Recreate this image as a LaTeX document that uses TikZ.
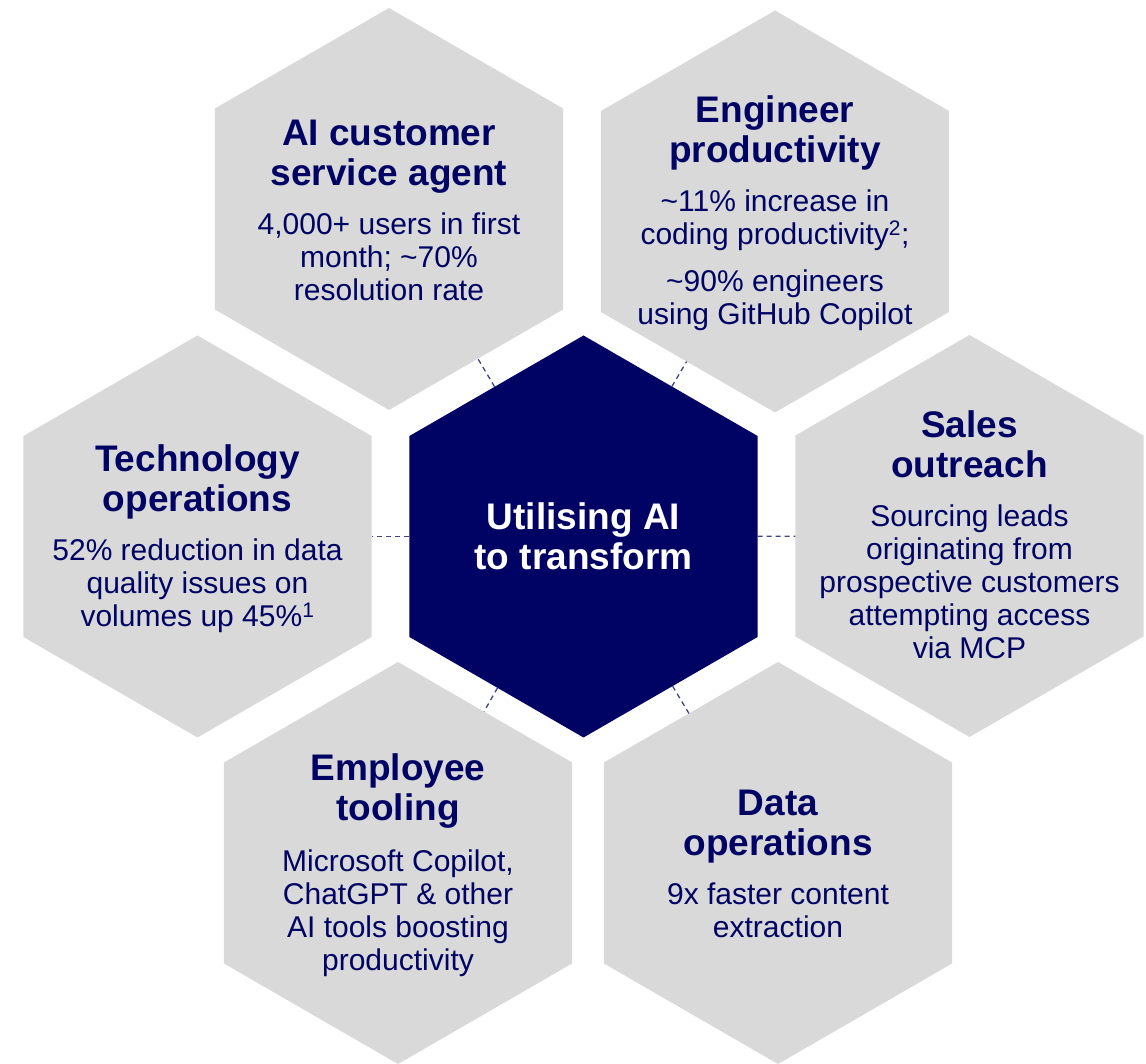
\documentclass[tikz,border=0pt]{standalone}
\usepackage{fontspec}
\setmainfont{Liberation Sans}
\usetikzlibrary{shapes.geometric}
\definecolor{navy}{RGB}{0,3,100}
\definecolor{hexgray}{RGB}{217,217,217}
\begin{document}
\begin{tikzpicture}[x=1pt,y=1pt,
    hexa/.style={regular polygon, regular polygon sides=6, shape border rotate=90,
      minimum size=402pt, inner sep=0pt, outer sep=0pt, fill=hexgray},
    hextitle/.style={anchor=north, align=center, text=navy, font=\fontsize{37}{40}\selectfont\bfseries},
    hexbody/.style={anchor=north, align=center, text=navy, font=\fontsize{30}{32.8}\selectfont},
    link/.style={navy!75, line width=1.3pt, dash pattern=on 5pt off 4pt}]
    % Frame
    \useasboundingbox (0,0) rectangle (1146,1063);
    % Hexagons
    \node[hexa] (tl) at (389,854) {};
    \node[hexa] (tr) at (775,851.5) {};
    \node[hexa] (lt) at (197.5,526.5) {};
    \node[hexa] (rt) at (969.5,527) {};
    \node[hexa] (bl) at (398,200) {};
    \node[hexa] (br) at (778,200) {};
    \node[hexa, fill=navy] (c) at (583.5,526.5) {};
    % Connectors
    \draw[link] (c) -- (tl);
    \draw[link] (c) -- (tr);
    \draw[link] (c) -- (lt);
    \draw[link] (c) -- (rt);
    \draw[link] (c) -- (bl);
    \draw[link] (c) -- (br);
    % Centre text
    \node[hextitle, text=white] (cT) at (583.5,563.5) {Utilising AI\\to transform};
    % Titles and figures
    \node[hextitle] (tlT) at (389,946.5) {AI customer\\service agent};
    \node[hexbody] (tlB) at (389,853.3) {4,000+ users in first\\month; \textasciitilde70\%\\resolution rate};
    \node[hextitle] (trT) at (775,970.5) {Engineer\\productivity};
    \node[hexbody] (trB) at (775,876.3) {\textasciitilde11\% increase in\\coding productivity\textsuperscript{2};\\[14pt]\textasciitilde90\% engineers\\using GitHub Copilot};
    \node[hextitle] (ltT) at (197.5,621.5) {Technology\\operations};
    \node[hexbody] (ltB) at (197.5,527.3) {52\% reduction in data\\quality issues on\\volumes up 45\%\textsuperscript{1}};
    \node[hextitle] (rtT) at (969.5,655.5) {Sales\\outreach};
    \node[hexbody] (rtB) at (969.5,561.3) {Sourcing leads\\originating from\\prospective customers\\attempting access\\via MCP};
    \node[hextitle] (blT) at (398,312.5) {Employee\\tooling};
    \node[hexbody] (blB) at (398,216.3) {Microsoft Copilot,\\ChatGPT \& other\\AI tools boosting\\productivity};
    \node[hextitle] (brT) at (778,276.5) {Data\\operations};
    \node[hexbody] (brB) at (778,183.3) {9x faster content\\extraction};
\end{tikzpicture}
\end{document}
